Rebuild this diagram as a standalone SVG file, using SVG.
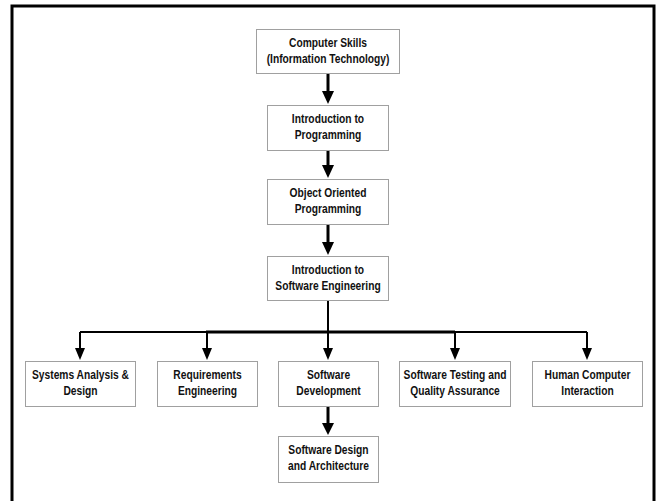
<svg xmlns="http://www.w3.org/2000/svg" width="659" height="501" viewBox="0 0 659 501">
<defs>
<style>
.box{fill:#fff;stroke:#a0a0a0;stroke-width:1}
.t{font-family:"Liberation Sans",Arial,sans-serif;font-weight:bold;font-size:13.5px;fill:#111;text-anchor:middle}
.thick{stroke:#000;stroke-width:3;fill:none}
.thin{stroke:#000;stroke-width:2;fill:none}
.head{fill:#000}
</style>
</defs>
<rect x="0" y="0" width="659" height="501" fill="#fff"/>
<rect x="12" y="6" width="642" height="520" fill="none" stroke="#000" stroke-width="3"/>

<g id="connectors">
<line class="thick" x1="328" y1="73" x2="328" y2="92"/>
<polygon class="head" points="322,91 334,91 328,104"/>
<line class="thick" x1="328" y1="150" x2="328" y2="166"/>
<polygon class="head" points="322,165 334,165 328,178"/>
<line class="thick" x1="328" y1="225" x2="328" y2="243"/>
<polygon class="head" points="322,242 334,242 328,255"/>
<line class="thin" x1="328" y1="300" x2="328" y2="350"/>
<line class="thin" x1="80" y1="332" x2="587" y2="332"/>
<line class="thick" x1="206" y1="332" x2="455" y2="332"/>
<line class="thin" x1="80" y1="332" x2="80" y2="350"/>
<polygon class="head" points="75,348 85,348 80,360"/>
<line class="thin" x1="207" y1="332" x2="207" y2="350"/>
<polygon class="head" points="202,348 212,348 207,360"/>
<polygon class="head" points="323,348 333,348 328,360"/>
<line class="thin" x1="455" y1="332" x2="455" y2="350"/>
<polygon class="head" points="450,348 460,348 455,360"/>
<line class="thin" x1="587" y1="332" x2="587" y2="350"/>
<polygon class="head" points="582,348 592,348 587,360"/>
<line class="thick" x1="328" y1="406" x2="328" y2="424"/>
<polygon class="head" points="322,423 334,423 328,435"/>
</g>

<g id="computer-skills">
<rect class="box" x="256.5" y="29.5" width="143" height="44"/>
<text class="t" transform="matrix(0.76,0,0,1,328,0)" y="47">Computer Skills</text>
<text class="t" transform="matrix(0.76,0,0,1,328,0)" y="63">(Information Technology)</text>
</g>
<g id="intro-programming">
<rect class="box" x="267.5" y="105.5" width="121" height="45"/>
<text class="t" transform="matrix(0.76,0,0,1,328,0)" y="123">Introduction to</text>
<text class="t" transform="matrix(0.76,0,0,1,328,0)" y="139">Programming</text>
</g>
<g id="oop">
<rect class="box" x="267.5" y="179.5" width="121" height="45"/>
<text class="t" transform="matrix(0.76,0,0,1,328,0)" y="197">Object Oriented</text>
<text class="t" transform="matrix(0.76,0,0,1,328,0)" y="213">Programming</text>
</g>
<g id="intro-se">
<rect class="box" x="267.5" y="256.5" width="121" height="44"/>
<text class="t" transform="matrix(0.76,0,0,1,328,0)" y="274">Introduction to</text>
<text class="t" transform="matrix(0.76,0,0,1,328,0)" y="290">Software Engineering</text>
</g>
<g id="systems-analysis">
<rect class="box" x="25.5" y="361.5" width="110" height="45"/>
<text class="t" transform="matrix(0.76,0,0,1,80.5,0)" y="379">Systems Analysis &amp;</text>
<text class="t" transform="matrix(0.76,0,0,1,80.5,0)" y="395">Design</text>
</g>
<g id="requirements">
<rect class="box" x="157.5" y="361.5" width="100" height="45"/>
<text class="t" transform="matrix(0.76,0,0,1,207.5,0)" y="379">Requirements</text>
<text class="t" transform="matrix(0.76,0,0,1,207.5,0)" y="395">Engineering</text>
</g>
<g id="software-development">
<rect class="box" x="278.5" y="361.5" width="100" height="45"/>
<text class="t" transform="matrix(0.76,0,0,1,328.5,0)" y="379">Software</text>
<text class="t" transform="matrix(0.76,0,0,1,328.5,0)" y="395">Development</text>
</g>
<g id="software-testing">
<rect class="box" x="399.5" y="361.5" width="111" height="45"/>
<text class="t" transform="matrix(0.76,0,0,1,455,0)" y="379">Software Testing and</text>
<text class="t" transform="matrix(0.76,0,0,1,455,0)" y="395">Quality Assurance</text>
</g>
<g id="hci">
<rect class="box" x="532.5" y="361.5" width="110" height="45"/>
<text class="t" transform="matrix(0.76,0,0,1,587.5,0)" y="379">Human Computer</text>
<text class="t" transform="matrix(0.76,0,0,1,587.5,0)" y="395">Interaction</text>
</g>
<g id="software-design">
<rect class="box" x="278.5" y="436.5" width="100" height="46"/>
<text class="t" transform="matrix(0.76,0,0,1,328.5,0)" y="454">Software Design</text>
<text class="t" transform="matrix(0.76,0,0,1,328.5,0)" y="470">and Architecture</text>
</g>
</svg>
